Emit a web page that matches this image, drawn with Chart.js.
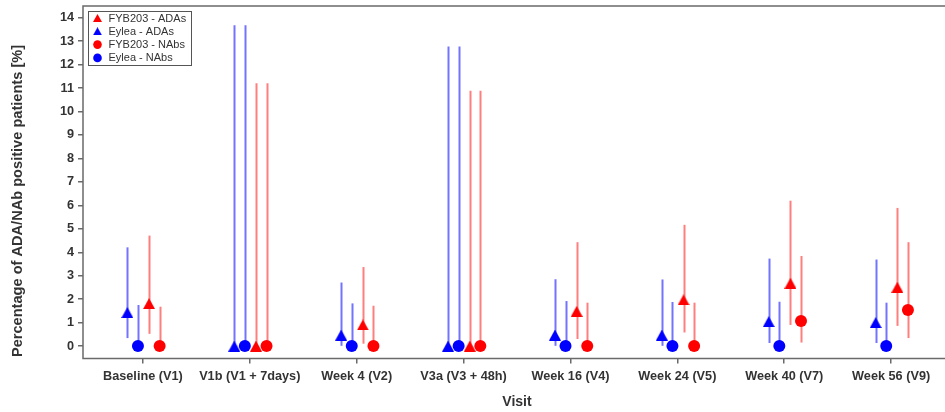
<!DOCTYPE html>
<html>
<head>
<meta charset="utf-8">
<script src="https://cdn.jsdelivr.net/npm/chart.js@4"></script>
<style>
  html, body { margin: 0; padding: 0; background: #fff; overflow: hidden; }
  #wrap { position: relative; width: 957px; height: 412px; }
</style>
</head>
<body>
<div id="wrap"><canvas id="chart"></canvas></div>
<script>
// Visits on the x axis
const visits = ['Baseline (V1)', 'V1b (V1 + 7days)', 'Week 4 (V2)', 'V3a (V3 + 48h)',
                'Week 16 (V4)', 'Week 24 (V5)', 'Week 40 (V7)', 'Week 56 (V9)'];
const yTicks = [0, 1, 2, 3, 4, 5, 6, 7, 8, 9, 10, 11, 12, 13, 14];
const yTitle = 'Percentage of ADA/NAb positive patients [%]';

// Percentage of positive patients with 95% CI (lower / upper)
const fybAda   = [1.81, 0, 0.90, 0, 1.48, 1.97, 2.68, 2.51];
const fybAdaLo = [0.52, 0, 0.10, 0, 0.30, 0.58, 0.90, 0.86];
const fybAdaHi = [4.71, 11.21, 3.37, 10.89, 4.43, 5.17, 6.20, 5.89];

const eyleaAda   = [1.43, 0, 0.47, 0, 0.47, 0.47, 1.04, 1.00];
const eyleaAdaLo = [0.34, 0, 0.01, 0, 0.01, 0.01, 0.13, 0.13];
const eyleaAdaHi = [4.21, 13.68, 2.71, 12.77, 2.85, 2.84, 3.73, 3.69];

const fybNab   = [0, 0, 0, 0, 0, 0, 1.07, 1.54];
const fybNabLo = [0, 0, 0, 0, 0, 0, 0.15, 0.34];
const fybNabHi = [1.68, 11.21, 1.72, 10.89, 1.85, 1.85, 3.84, 4.43];

const eyleaNab   = [0, 0, 0, 0, 0, 0, 0, 0];
const eyleaNabLo = [0, 0, 0, 0, 0, 0, 0, 0];
const eyleaNabHi = [1.75, 13.68, 1.82, 12.77, 1.92, 1.88, 1.89, 1.85];

const RED = '#ff0000', BLUE = '#0000ff';
const RED_BAR = 'rgba(255,0,0,0.5)', BLUE_BAR = 'rgba(0,0,255,0.55)';
const FONT = "'Liberation Sans', Arial, sans-serif";

// Triangle marker centred on its bounding box
function triangle(color, w, h) {
  const c = document.createElement('canvas');
  c.width = w; c.height = h;
  const g = c.getContext('2d');
  g.fillStyle = color;
  g.beginPath();
  g.moveTo(w / 2, 0);
  g.lineTo(w, h);
  g.lineTo(0, h);
  g.closePath();
  g.fill();
  return c;
}
const triRed = triangle(RED, 12, 11), triBlue = triangle(BLUE, 12, 11);
const triRedSm = triangle(RED, 9, 8), triBlueSm = triangle(BLUE, 9, 8);

function series(label, vals, lo, hi, shift, color, barColor, style, legendStyle) {
  return {
    label,
    data: vals.map((v, i) => ({ x: i + 1 + shift, y: v })),
    lo, hi, barColor, legendStyle, color,
    pointStyle: style,
    pointRadius: 6,
    pointHoverRadius: 6,
    backgroundColor: color,
    borderColor: color,
    borderWidth: 0,
    showLine: false
  };
}

// Within each visit: blue ADA, blue NAb, red ADA, red NAb (left to right)
const datasets = [
  series('FYB203 - ADAs', fybAda, fybAdaLo, fybAdaHi, 0.058, RED, RED_BAR, triRed, triRedSm),
  series('Eylea - ADAs', eyleaAda, eyleaAdaLo, eyleaAdaHi, -0.145, BLUE, BLUE_BAR, triBlue, triBlueSm),
  series('FYB203 - NAbs', fybNab, fybNabLo, fybNabHi, 0.157, RED, RED_BAR, 'circle', 'circle'),
  series('Eylea - NAbs', eyleaNab, eyleaNabLo, eyleaNabHi, -0.046, BLUE, BLUE_BAR, 'circle', 'circle')
];

// Vertical confidence-interval lines behind the markers
const errorBars = {
  id: 'errorBars',
  beforeDatasetsDraw(chart) {
    const { ctx } = chart;
    const yScale = chart.scales.y;
    ctx.save();
    ctx.lineWidth = 2;
    chart.data.datasets.forEach((ds, di) => {
      const meta = chart.getDatasetMeta(di);
      ctx.strokeStyle = ds.barColor;
      meta.data.forEach((pt, i) => {
        const x = Math.round(pt.x) + 0.5;
        ctx.beginPath();
        ctx.moveTo(x, yScale.getPixelForValue(ds.lo[i]));
        ctx.lineTo(x, yScale.getPixelForValue(ds.hi[i]));
        ctx.stroke();
      });
    });
    ctx.restore();
  }
};

// Plot frame, y-axis title and boxed legend in the upper-left corner
const frameAndLegend = {
  id: 'frameAndLegend',
  afterDatasetsDraw(chart) {
    const { ctx, chartArea: a } = chart;
    ctx.save();
    ctx.strokeStyle = '#6a6a6a';
    ctx.lineWidth = 1.5;
    ctx.strokeRect(a.left, a.top, a.right - a.left + 10, a.bottom - a.top);

    ctx.save();
    ctx.translate(18, 201);
    ctx.rotate(-Math.PI / 2);
    ctx.fillStyle = '#333';
    ctx.font = 'bold 14.6px ' + FONT;
    ctx.textAlign = 'center';
    ctx.textBaseline = 'middle';
    ctx.fillText(yTitle, 0, 0);
    ctx.restore();

    const bx = a.left + 5, by = a.top + 5, bw = 103, bh = 54;
    ctx.fillStyle = '#fff';
    ctx.fillRect(bx, by, bw, bh);
    ctx.strokeStyle = '#555';
    ctx.lineWidth = 1;
    ctx.strokeRect(bx + 0.5, by + 0.5, bw, bh);

    ctx.font = '11px ' + FONT;
    ctx.textBaseline = 'middle';
    chart.data.datasets.forEach((ds, i) => {
      const cy = by + 7 + i * 13.3;
      const cx = bx + 9.5;
      if (ds.legendStyle === 'circle') {
        ctx.fillStyle = ds.color;
        ctx.beginPath();
        ctx.arc(cx, cy, 4.3, 0, Math.PI * 2);
        ctx.fill();
      } else {
        const im = ds.legendStyle;
        ctx.drawImage(im, cx - im.width / 2, cy - im.height / 2);
      }
      ctx.fillStyle = '#333';
      ctx.fillText(ds.label, bx + 20.5, cy + 0.5);
    });
    ctx.restore();
  }
};

new Chart(document.getElementById('chart'), {
  type: 'scatter',
  data: { datasets },
  plugins: [errorBars, frameAndLegend],
  options: {
    responsive: true,
    maintainAspectRatio: false,
    animation: false,
    layout: { padding: { top: 4, right: 2, bottom: 0, left: 0 } },
    plugins: { legend: { display: false }, tooltip: { enabled: false } },
    scales: {
      x: {
        type: 'linear',
        min: 0.44,
        max: 8.56,
        afterBuildTicks: s => { s.ticks = visits.map((_, i) => ({ value: i + 1 })); },
        afterFit: s => { s.height = 53.5; s.paddingLeft = 0; s.paddingRight = 0; },
        border: { display: false },
        grid: { drawOnChartArea: false, drawTicks: true, tickLength: 5, color: '#6a6a6a', lineWidth: 1.5 },
        ticks: {
          autoSkip: false,
          maxRotation: 0,
          padding: 5,
          color: '#333',
          font: { family: FONT, size: 12.7, weight: 'bold' },
          callback: v => visits[Math.round(v) - 1]
        },
        title: {
          display: true,
          text: 'Visit',
          color: '#333',
          font: { family: FONT, size: 14, weight: 'bold' },
          padding: { top: 0, bottom: 1 }
        }
      },
      y: {
        min: -0.53,
        max: 14.5,
        afterBuildTicks: s => { s.ticks = yTicks.map(v => ({ value: v })); },
        afterFit: s => { s.width = 83; s.paddingTop = 0; s.paddingBottom = 0; },
        border: { display: false },
        grid: { drawOnChartArea: false, drawTicks: true, tickLength: 5, color: '#6a6a6a', lineWidth: 1.5 },
        ticks: {
          padding: 4,
          color: '#333',
          font: { family: FONT, size: 12.7, weight: 'bold' }
        }
      }
    }
  }
});
</script>
</body>
</html>
